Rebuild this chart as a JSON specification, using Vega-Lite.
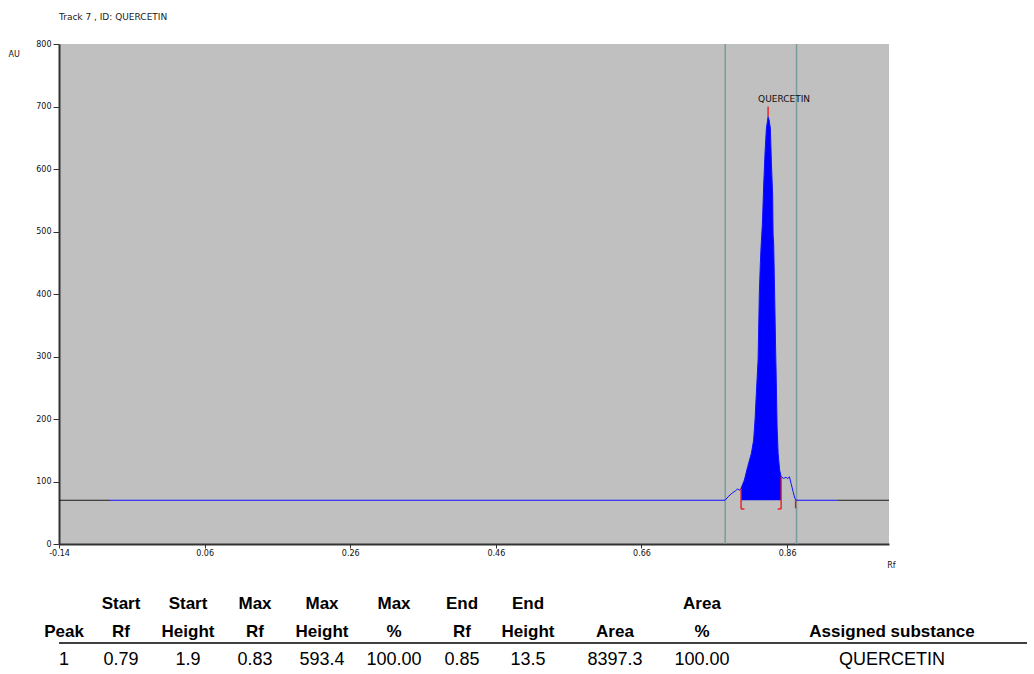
{
  "$schema": "https://vega.github.io/schema/vega-lite/v6.json",
  "background": "white",
  "padding": {"left": 8, "top": 13, "right": 0, "bottom": 0},
  "bounds": "flush",
  "spacing": 46,
  "config": {
    "view": {"stroke": null},
    "axis": {
      "labelFont": "DejaVu Sans", "labelFontSize": 8, "labelColor": "#111",
      "titleFont": "DejaVu Sans", "titleFontSize": 8, "titleFontWeight": "normal", "titleColor": "#111",
      "tickColor": "#333", "domainColor": "#333", "grid": false, "labelFlush": false
    },
    "style": {
      "hdr": {"font": "Liberation Sans, Arial, sans-serif", "fontSize": 17, "fontWeight": "bold", "fill": "#000", "align": "center", "baseline": "middle"},
      "val": {"font": "Liberation Sans, Arial, sans-serif", "fontSize": 18, "fontWeight": "normal", "fill": "#000", "align": "center", "baseline": "middle"}
    }
  },
  "datasets": {
    "trace": [
      {"series": "baseline", "segment": "left", "rf": -0.14, "au": 70},
      {"series": "baseline", "segment": "left", "rf": -0.07, "au": 70},
      {"series": "baseline", "segment": "right", "rf": 0.93, "au": 70},
      {"series": "baseline", "segment": "right", "rf": 1.0, "au": 70},
      {"series": "signal", "segment": "sig", "rf": -0.07, "au": 70},
      {"series": "signal", "segment": "sig", "rf": 0.775, "au": 70},
      {"series": "signal", "segment": "sig", "rf": 0.779, "au": 75.7},
      {"series": "signal", "segment": "sig", "rf": 0.784, "au": 81},
      {"series": "signal", "segment": "sig", "rf": 0.789, "au": 85},
      {"series": "signal", "segment": "sig", "rf": 0.792, "au": 88},
      {"series": "signal", "segment": "sig", "rf": 0.795, "au": 86},
      {"series": "signal", "segment": "sig", "rf": 0.7968, "au": 89.1},
      {"series": "signal", "segment": "sig", "rf": 0.8014, "au": 102.4},
      {"series": "signal", "segment": "sig", "rf": 0.8059, "au": 123.7},
      {"series": "signal", "segment": "sig", "rf": 0.811, "au": 145.1},
      {"series": "signal", "segment": "sig", "rf": 0.8141, "au": 166.4},
      {"series": "signal", "segment": "sig", "rf": 0.816, "au": 198.4},
      {"series": "signal", "segment": "sig", "rf": 0.8178, "au": 241.1},
      {"series": "signal", "segment": "sig", "rf": 0.8202, "au": 294.4},
      {"series": "signal", "segment": "sig", "rf": 0.8219, "au": 401},
      {"series": "signal", "segment": "sig", "rf": 0.8233, "au": 449},
      {"series": "signal", "segment": "sig", "rf": 0.8243, "au": 475.7},
      {"series": "signal", "segment": "sig", "rf": 0.8261, "au": 512},
      {"series": "signal", "segment": "sig", "rf": 0.8279, "au": 574.4},
      {"series": "signal", "segment": "sig", "rf": 0.8298, "au": 627.7},
      {"series": "signal", "segment": "sig", "rf": 0.8316, "au": 665},
      {"series": "signal", "segment": "sig", "rf": 0.8339, "au": 683.7},
      {"series": "signal", "segment": "sig", "rf": 0.8353, "au": 678.4},
      {"series": "signal", "segment": "sig", "rf": 0.8371, "au": 665},
      {"series": "signal", "segment": "sig", "rf": 0.8384, "au": 611.7},
      {"series": "signal", "segment": "sig", "rf": 0.8402, "au": 558.4},
      {"series": "signal", "segment": "sig", "rf": 0.8408, "au": 494.4},
      {"series": "signal", "segment": "sig", "rf": 0.8416, "au": 481},
      {"series": "signal", "segment": "sig", "rf": 0.843, "au": 395.7},
      {"series": "signal", "segment": "sig", "rf": 0.8444, "au": 305},
      {"series": "signal", "segment": "sig", "rf": 0.8449, "au": 278.4},
      {"series": "signal", "segment": "sig", "rf": 0.8463, "au": 187.7},
      {"series": "signal", "segment": "sig", "rf": 0.8477, "au": 145.1},
      {"series": "signal", "segment": "sig", "rf": 0.8498, "au": 118.4},
      {"series": "signal", "segment": "sig", "rf": 0.8518, "au": 107.7},
      {"series": "signal", "segment": "sig", "rf": 0.8553, "au": 105},
      {"series": "signal", "segment": "sig", "rf": 0.8586, "au": 106.7},
      {"series": "signal", "segment": "sig", "rf": 0.8608, "au": 104.5},
      {"series": "signal", "segment": "sig", "rf": 0.8632, "au": 107.7},
      {"series": "signal", "segment": "sig", "rf": 0.8655, "au": 97},
      {"series": "signal", "segment": "sig", "rf": 0.8683, "au": 83.7},
      {"series": "signal", "segment": "sig", "rf": 0.8705, "au": 73.6},
      {"series": "signal", "segment": "sig", "rf": 0.8724, "au": 70},
      {"series": "signal", "segment": "sig", "rf": 0.93, "au": 70}
    ],
    "windows": [{"rf": 0.775}, {"rf": 0.873}],
    "markers": [
      {"rf": 0.7968, "rf2": 0.7968, "au": 89, "au2": 56},
      {"rf": 0.7968, "rf2": 0.8015, "au": 56, "au2": 56},
      {"rf": 0.8518, "rf2": 0.8518, "au": 107.7, "au2": 56},
      {"rf": 0.8471, "rf2": 0.8518, "au": 56, "au2": 56},
      {"rf": 0.8716, "rf2": 0.8716, "au": 70, "au2": 57},
      {"rf": 0.8339, "rf2": 0.8339, "au": 684, "au2": 700}
    ],
    "peak": [{"rf": 0.8339, "au": 700, "label": "QUERCETIN"}],
    "table": [
      {"col": "Peak", "line": "h2", "text": "Peak"},
      {"col": "Peak", "line": "val", "text": "1"},
      {"col": "Start Rf", "line": "h1", "text": "Start"},
      {"col": "Start Rf", "line": "h2", "text": "Rf"},
      {"col": "Start Rf", "line": "val", "text": "0.79"},
      {"col": "Start Height", "line": "h1", "text": "Start"},
      {"col": "Start Height", "line": "h2", "text": "Height"},
      {"col": "Start Height", "line": "val", "text": "1.9"},
      {"col": "Max Rf", "line": "h1", "text": "Max"},
      {"col": "Max Rf", "line": "h2", "text": "Rf"},
      {"col": "Max Rf", "line": "val", "text": "0.83"},
      {"col": "Max Height", "line": "h1", "text": "Max"},
      {"col": "Max Height", "line": "h2", "text": "Height"},
      {"col": "Max Height", "line": "val", "text": "593.4"},
      {"col": "Max %", "line": "h1", "text": "Max"},
      {"col": "Max %", "line": "h2", "text": "%"},
      {"col": "Max %", "line": "val", "text": "100.00"},
      {"col": "End Rf", "line": "h1", "text": "End"},
      {"col": "End Rf", "line": "h2", "text": "Rf"},
      {"col": "End Rf", "line": "val", "text": "0.85"},
      {"col": "End Height", "line": "h1", "text": "End"},
      {"col": "End Height", "line": "h2", "text": "Height"},
      {"col": "End Height", "line": "val", "text": "13.5"},
      {"col": "Area", "line": "h2", "text": "Area"},
      {"col": "Area", "line": "val", "text": "8397.3"},
      {"col": "Area %", "line": "h1", "text": "Area"},
      {"col": "Area %", "line": "h2", "text": "%"},
      {"col": "Area %", "line": "val", "text": "100.00"},
      {"col": "Assigned substance", "line": "h2", "text": "Assigned substance"},
      {"col": "Assigned substance", "line": "val", "text": "QUERCETIN"}
    ]
  },
  "vconcat": [
    {
      "width": 830,
      "height": 500,
      "view": {"fill": "#c0c0c0", "stroke": null},
      "title": {"text": "Track  7 , ID: QUERCETIN", "anchor": "start", "frame": "group", "font": "DejaVu Sans", "fontSize": 9, "fontWeight": "normal", "color": "#222", "baseline": "alphabetic", "offset": 11},
      "layer": [
        {
          "data": {"name": "windows"},
          "mark": {"type": "rule", "color": "#7a9c9c", "strokeWidth": 1.5},
          "encoding": {
            "x": {"field": "rf", "type": "quantitative", "scale": {"domain": [-0.14, 1.0], "nice": false, "zero": false},
              "axis": {"values": [-0.14, 0.06, 0.26, 0.46, 0.66, 0.86], "format": ".2f", "labelExpr": "replace(datum.label, '\u2212', '-')", "tickSize": 4, "labelPadding": 1, "domainWidth": 2, "title": "Rf", "titleX": 836, "titleY": 21, "titleAlign": "right", "titleBaseline": "middle"}}
          }
        },
        {
          "data": {"name": "trace"},
          "transform": [{"filter": "datum.series === 'signal' && datum.rf >= 0.7968 && datum.rf <= 0.8518"}],
          "mark": {"type": "area", "color": "#0000ff", "opacity": 1},
          "encoding": {
            "x": {"field": "rf", "type": "quantitative", "scale": {"domain": [-0.14, 1.0], "nice": false, "zero": false}},
            "y": {"field": "au", "type": "quantitative", "scale": {"domain": [0, 800], "nice": false},
              "axis": {"values": [0, 100, 200, 300, 400, 500, 600, 700, 800], "tickSize": 6, "labelPadding": 2, "domainWidth": 2, "title": "AU", "titleAngle": 0, "titleAlign": "left", "titleX": -51, "titleY": 10, "titleBaseline": "middle"}},
            "y2": {"datum": 70}
          }
        },
        {
          "data": {"name": "trace"},
          "mark": {"type": "line", "strokeWidth": 1},
          "encoding": {
            "x": {"field": "rf", "type": "quantitative", "scale": {"domain": [-0.14, 1.0], "nice": false, "zero": false}},
            "y": {"field": "au", "type": "quantitative", "scale": {"domain": [0, 800], "nice": false}},
            "color": {"field": "series", "type": "nominal", "scale": {"domain": ["baseline", "signal"], "range": ["#1a1a1a", "#1010ff"]}, "legend": null},
            "detail": {"field": "segment"}
          }
        },
        {
          "data": {"name": "markers"},
          "mark": {"type": "rule", "color": "#ee1111", "strokeWidth": 1.3},
          "encoding": {
            "x": {"field": "rf", "type": "quantitative", "scale": {"domain": [-0.14, 1.0], "nice": false, "zero": false}},
            "x2": {"field": "rf2"},
            "y": {"field": "au", "type": "quantitative", "scale": {"domain": [0, 800], "nice": false}},
            "y2": {"field": "au2"}
          }
        },
        {
          "data": {"name": "peak"},
          "mark": {"type": "text", "font": "DejaVu Sans", "fontSize": 9, "color": "#111", "align": "center", "baseline": "middle", "dx": 16, "dy": -8},
          "encoding": {
            "x": {"field": "rf", "type": "quantitative", "scale": {"domain": [-0.14, 1.0], "nice": false, "zero": false}},
            "y": {"field": "au", "type": "quantitative", "scale": {"domain": [0, 800], "nice": false}},
            "text": {"field": "label"}
          }
        }
      ]
    },
    {
      "data": {"name": "table"},
      "spacing": 0,
      "bounds": "flush",
      "hconcat": [
        {"width": 10, "height": 84, "transform": [{"filter": "datum.col === 'Peak'"}], "layer": [
          {"transform": [{"filter": "datum.line !== 'val'"}], "mark": {"type": "text", "style": "hdr"}, "encoding": {"y": {"field": "line", "type": "nominal", "scale": {"type": "band", "domain": ["h1", "h2", "val"], "paddingInner": 0, "paddingOuter": 0}, "axis": null}, "text": {"field": "text"}}},
          {"transform": [{"filter": "datum.line === 'val'"}], "mark": {"type": "text", "style": "val"}, "encoding": {"y": {"field": "line", "type": "nominal", "scale": {"type": "band", "domain": ["h1", "h2", "val"], "paddingInner": 0, "paddingOuter": 0}, "axis": null}, "text": {"field": "text"}}},
          {"transform": [{"filter": "datum.line === 'val'"}], "mark": {"type": "rule", "color": "#000", "strokeWidth": 1.5, "yOffset": -3}, "encoding": {"y": {"field": "line", "type": "nominal", "bandPosition": 0, "scale": {"type": "band", "domain": ["h1", "h2", "val"], "paddingInner": 0, "paddingOuter": 0}, "axis": null}}}
        ]},
        {"width": 104, "height": 84, "transform": [{"filter": "datum.col === 'Start Rf'"}], "layer": [
          {"transform": [{"filter": "datum.line !== 'val'"}], "mark": {"type": "text", "style": "hdr"}, "encoding": {"y": {"field": "line", "type": "nominal", "scale": {"type": "band", "domain": ["h1", "h2", "val"], "paddingInner": 0, "paddingOuter": 0}, "axis": null}, "text": {"field": "text"}}},
          {"transform": [{"filter": "datum.line === 'val'"}], "mark": {"type": "text", "style": "val"}, "encoding": {"y": {"field": "line", "type": "nominal", "scale": {"type": "band", "domain": ["h1", "h2", "val"], "paddingInner": 0, "paddingOuter": 0}, "axis": null}, "text": {"field": "text"}}},
          {"transform": [{"filter": "datum.line === 'val'"}], "mark": {"type": "rule", "color": "#000", "strokeWidth": 1.5, "yOffset": -3}, "encoding": {"y": {"field": "line", "type": "nominal", "bandPosition": 0, "scale": {"type": "band", "domain": ["h1", "h2", "val"], "paddingInner": 0, "paddingOuter": 0}, "axis": null}}}
        ]},
        {"width": 30, "height": 84, "transform": [{"filter": "datum.col === 'Start Height'"}], "layer": [
          {"transform": [{"filter": "datum.line !== 'val'"}], "mark": {"type": "text", "style": "hdr"}, "encoding": {"y": {"field": "line", "type": "nominal", "scale": {"type": "band", "domain": ["h1", "h2", "val"], "paddingInner": 0, "paddingOuter": 0}, "axis": null}, "text": {"field": "text"}}},
          {"transform": [{"filter": "datum.line === 'val'"}], "mark": {"type": "text", "style": "val"}, "encoding": {"y": {"field": "line", "type": "nominal", "scale": {"type": "band", "domain": ["h1", "h2", "val"], "paddingInner": 0, "paddingOuter": 0}, "axis": null}, "text": {"field": "text"}}},
          {"transform": [{"filter": "datum.line === 'val'"}], "mark": {"type": "rule", "color": "#000", "strokeWidth": 1.5, "yOffset": -3}, "encoding": {"y": {"field": "line", "type": "nominal", "bandPosition": 0, "scale": {"type": "band", "domain": ["h1", "h2", "val"], "paddingInner": 0, "paddingOuter": 0}, "axis": null}}}
        ]},
        {"width": 104, "height": 84, "transform": [{"filter": "datum.col === 'Max Rf'"}], "layer": [
          {"transform": [{"filter": "datum.line !== 'val'"}], "mark": {"type": "text", "style": "hdr"}, "encoding": {"y": {"field": "line", "type": "nominal", "scale": {"type": "band", "domain": ["h1", "h2", "val"], "paddingInner": 0, "paddingOuter": 0}, "axis": null}, "text": {"field": "text"}}},
          {"transform": [{"filter": "datum.line === 'val'"}], "mark": {"type": "text", "style": "val"}, "encoding": {"y": {"field": "line", "type": "nominal", "scale": {"type": "band", "domain": ["h1", "h2", "val"], "paddingInner": 0, "paddingOuter": 0}, "axis": null}, "text": {"field": "text"}}},
          {"transform": [{"filter": "datum.line === 'val'"}], "mark": {"type": "rule", "color": "#000", "strokeWidth": 1.5, "yOffset": -3}, "encoding": {"y": {"field": "line", "type": "nominal", "bandPosition": 0, "scale": {"type": "band", "domain": ["h1", "h2", "val"], "paddingInner": 0, "paddingOuter": 0}, "axis": null}}}
        ]},
        {"width": 30, "height": 84, "transform": [{"filter": "datum.col === 'Max Height'"}], "layer": [
          {"transform": [{"filter": "datum.line !== 'val'"}], "mark": {"type": "text", "style": "hdr"}, "encoding": {"y": {"field": "line", "type": "nominal", "scale": {"type": "band", "domain": ["h1", "h2", "val"], "paddingInner": 0, "paddingOuter": 0}, "axis": null}, "text": {"field": "text"}}},
          {"transform": [{"filter": "datum.line === 'val'"}], "mark": {"type": "text", "style": "val"}, "encoding": {"y": {"field": "line", "type": "nominal", "scale": {"type": "band", "domain": ["h1", "h2", "val"], "paddingInner": 0, "paddingOuter": 0}, "axis": null}, "text": {"field": "text"}}},
          {"transform": [{"filter": "datum.line === 'val'"}], "mark": {"type": "rule", "color": "#000", "strokeWidth": 1.5, "yOffset": -3}, "encoding": {"y": {"field": "line", "type": "nominal", "bandPosition": 0, "scale": {"type": "band", "domain": ["h1", "h2", "val"], "paddingInner": 0, "paddingOuter": 0}, "axis": null}}}
        ]},
        {"width": 114, "height": 84, "transform": [{"filter": "datum.col === 'Max %'"}], "layer": [
          {"transform": [{"filter": "datum.line !== 'val'"}], "mark": {"type": "text", "style": "hdr"}, "encoding": {"y": {"field": "line", "type": "nominal", "scale": {"type": "band", "domain": ["h1", "h2", "val"], "paddingInner": 0, "paddingOuter": 0}, "axis": null}, "text": {"field": "text"}}},
          {"transform": [{"filter": "datum.line === 'val'"}], "mark": {"type": "text", "style": "val"}, "encoding": {"y": {"field": "line", "type": "nominal", "scale": {"type": "band", "domain": ["h1", "h2", "val"], "paddingInner": 0, "paddingOuter": 0}, "axis": null}, "text": {"field": "text"}}},
          {"transform": [{"filter": "datum.line === 'val'"}], "mark": {"type": "rule", "color": "#000", "strokeWidth": 1.5, "yOffset": -3}, "encoding": {"y": {"field": "line", "type": "nominal", "bandPosition": 0, "scale": {"type": "band", "domain": ["h1", "h2", "val"], "paddingInner": 0, "paddingOuter": 0}, "axis": null}}}
        ]},
        {"width": 22, "height": 84, "transform": [{"filter": "datum.col === 'End Rf'"}], "layer": [
          {"transform": [{"filter": "datum.line !== 'val'"}], "mark": {"type": "text", "style": "hdr"}, "encoding": {"y": {"field": "line", "type": "nominal", "scale": {"type": "band", "domain": ["h1", "h2", "val"], "paddingInner": 0, "paddingOuter": 0}, "axis": null}, "text": {"field": "text"}}},
          {"transform": [{"filter": "datum.line === 'val'"}], "mark": {"type": "text", "style": "val"}, "encoding": {"y": {"field": "line", "type": "nominal", "scale": {"type": "band", "domain": ["h1", "h2", "val"], "paddingInner": 0, "paddingOuter": 0}, "axis": null}, "text": {"field": "text"}}},
          {"transform": [{"filter": "datum.line === 'val'"}], "mark": {"type": "rule", "color": "#000", "strokeWidth": 1.5, "yOffset": -3}, "encoding": {"y": {"field": "line", "type": "nominal", "bandPosition": 0, "scale": {"type": "band", "domain": ["h1", "h2", "val"], "paddingInner": 0, "paddingOuter": 0}, "axis": null}}}
        ]},
        {"width": 110, "height": 84, "transform": [{"filter": "datum.col === 'End Height'"}], "layer": [
          {"transform": [{"filter": "datum.line !== 'val'"}], "mark": {"type": "text", "style": "hdr"}, "encoding": {"y": {"field": "line", "type": "nominal", "scale": {"type": "band", "domain": ["h1", "h2", "val"], "paddingInner": 0, "paddingOuter": 0}, "axis": null}, "text": {"field": "text"}}},
          {"transform": [{"filter": "datum.line === 'val'"}], "mark": {"type": "text", "style": "val"}, "encoding": {"y": {"field": "line", "type": "nominal", "scale": {"type": "band", "domain": ["h1", "h2", "val"], "paddingInner": 0, "paddingOuter": 0}, "axis": null}, "text": {"field": "text"}}},
          {"transform": [{"filter": "datum.line === 'val'"}], "mark": {"type": "rule", "color": "#000", "strokeWidth": 1.5, "yOffset": -3}, "encoding": {"y": {"field": "line", "type": "nominal", "bandPosition": 0, "scale": {"type": "band", "domain": ["h1", "h2", "val"], "paddingInner": 0, "paddingOuter": 0}, "axis": null}}}
        ]},
        {"width": 64, "height": 84, "transform": [{"filter": "datum.col === 'Area'"}], "layer": [
          {"transform": [{"filter": "datum.line !== 'val'"}], "mark": {"type": "text", "style": "hdr"}, "encoding": {"y": {"field": "line", "type": "nominal", "scale": {"type": "band", "domain": ["h1", "h2", "val"], "paddingInner": 0, "paddingOuter": 0}, "axis": null}, "text": {"field": "text"}}},
          {"transform": [{"filter": "datum.line === 'val'"}], "mark": {"type": "text", "style": "val"}, "encoding": {"y": {"field": "line", "type": "nominal", "scale": {"type": "band", "domain": ["h1", "h2", "val"], "paddingInner": 0, "paddingOuter": 0}, "axis": null}, "text": {"field": "text"}}},
          {"transform": [{"filter": "datum.line === 'val'"}], "mark": {"type": "rule", "color": "#000", "strokeWidth": 1.5, "yOffset": -3}, "encoding": {"y": {"field": "line", "type": "nominal", "bandPosition": 0, "scale": {"type": "band", "domain": ["h1", "h2", "val"], "paddingInner": 0, "paddingOuter": 0}, "axis": null}}}
        ]},
        {"width": 110, "height": 84, "transform": [{"filter": "datum.col === 'Area %'"}], "layer": [
          {"transform": [{"filter": "datum.line !== 'val'"}], "mark": {"type": "text", "style": "hdr"}, "encoding": {"y": {"field": "line", "type": "nominal", "scale": {"type": "band", "domain": ["h1", "h2", "val"], "paddingInner": 0, "paddingOuter": 0}, "axis": null}, "text": {"field": "text"}}},
          {"transform": [{"filter": "datum.line === 'val'"}], "mark": {"type": "text", "style": "val"}, "encoding": {"y": {"field": "line", "type": "nominal", "scale": {"type": "band", "domain": ["h1", "h2", "val"], "paddingInner": 0, "paddingOuter": 0}, "axis": null}, "text": {"field": "text"}}},
          {"transform": [{"filter": "datum.line === 'val'"}], "mark": {"type": "rule", "color": "#000", "strokeWidth": 1.5, "yOffset": -3}, "encoding": {"y": {"field": "line", "type": "nominal", "bandPosition": 0, "scale": {"type": "band", "domain": ["h1", "h2", "val"], "paddingInner": 0, "paddingOuter": 0}, "axis": null}}}
        ]},
        {"width": 270, "height": 84, "transform": [{"filter": "datum.col === 'Assigned substance'"}], "layer": [
          {"transform": [{"filter": "datum.line !== 'val'"}], "mark": {"type": "text", "style": "hdr"}, "encoding": {"y": {"field": "line", "type": "nominal", "scale": {"type": "band", "domain": ["h1", "h2", "val"], "paddingInner": 0, "paddingOuter": 0}, "axis": null}, "text": {"field": "text"}}},
          {"transform": [{"filter": "datum.line === 'val'"}], "mark": {"type": "text", "style": "val"}, "encoding": {"y": {"field": "line", "type": "nominal", "scale": {"type": "band", "domain": ["h1", "h2", "val"], "paddingInner": 0, "paddingOuter": 0}, "axis": null}, "text": {"field": "text"}}},
          {"transform": [{"filter": "datum.line === 'val'"}], "mark": {"type": "rule", "color": "#000", "strokeWidth": 1.5, "yOffset": -3}, "encoding": {"y": {"field": "line", "type": "nominal", "bandPosition": 0, "scale": {"type": "band", "domain": ["h1", "h2", "val"], "paddingInner": 0, "paddingOuter": 0}, "axis": null}}}
        ]}
      ]
    }
  ]
}
